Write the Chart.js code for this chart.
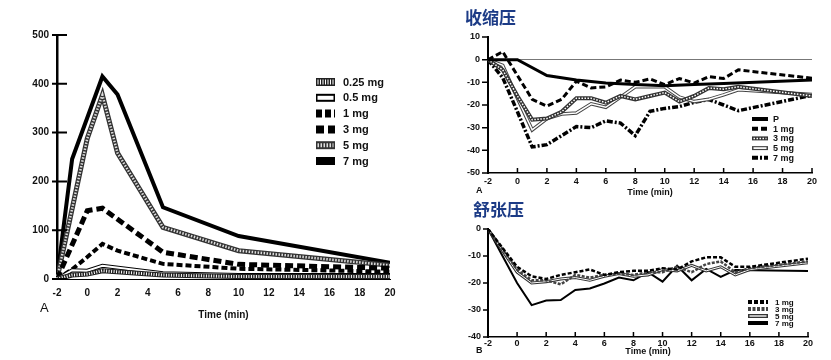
<!DOCTYPE html>
<html>
<head>
<meta charset="utf-8">
<script src="https://cdn.jsdelivr.net/npm/chart.js@4.4.1/dist/chart.umd.min.js"></script>
<style>
  body { margin: 0; background: #fff; width: 831px; height: 360px; position: relative; overflow: hidden; font-family: "Liberation Sans", Arial, sans-serif; }
  canvas { position: absolute; }
  .t { position: absolute; white-space: nowrap; line-height: 1; color: #111; font-weight: bold; }
  .cn { font-family: "Noto Sans CJK SC", sans-serif; font-size: 17px; color: #1c3b86; }
</style>
</head>
<body>
<canvas id="chartA" width="430" height="330" style="left:0px;top:0px"></canvas>
<canvas id="chartSys" width="391" height="200" style="left:440px;top:0px"></canvas>
<canvas id="chartDia" width="391" height="160" style="left:440px;top:200px"></canvas>

<div class="t" style="left:40px;top:301px;font-size:13px;font-weight:normal">A</div>
<div class="t cn" style="left:465px;top:8px">收缩压</div>
<div class="t" style="left:476px;top:186px;font-size:9px">A</div>
<div class="t cn" style="left:473px;top:200px">舒张压</div>
<div class="t" style="left:476px;top:346px;font-size:9px">B</div>

<script>
// ---- data: left chart (A) ----
const timeA = [-2, -1, 0, 1, 2, 5, 10, 15, 20];
const a025 = [0, 8, 10, 17, null, 8, 5, null, 5];
const a05  = [0, 18, 17, 27, null, 12, 8, null, 8];
const a1   = [0, 20, 45, 72, 58, 31, 21, null, 15];
const a3   = [0, null, 140, 145, null, 55, 30, null, 22];
const a5   = [0, null, 288, 377, 258, 106, 58, null, 28];
const a7   = [0, 246, null, 415, 378, 147, 88, null, 33];

// ---- data: systolic ----
const timeSys = [-2, -1, 0, 1, 2, 3, 4, 5, 6, 7, 8, 9, 10, 11, 12, 13, 14, 15, 20];
const sysP  = [0, null, 0, null, -7, null, -9, null, -10.3, null, -11, null, -11.5, null, -11, null, -10.5, null, -9];
const sys1  = [0, 3.5, null, -17.5, -20.5, -17.5, -9.5, -12.5, -12, -9, -10, -8.5, -11, -8.3, -10.3, -7.5, -8.3, -4.5, -8.2];
const sys3  = [0, -4.5, -16, -26.5, -26, -23, -17, -17, -19, -16, -17.5, -16, -14.5, -18.5, -16, -12.5, -13, -12, -16];
const sys5  = [0, -2.5, -17, -31, -26, -24, -23.5, -19.5, -21, -16.5, -12, -12, -12, -16.5, -18.5, -17.5, -15.5, -13.3, -15.4];
const sys7  = [0, -8, -23, -38.5, -37.5, -33.5, -29.5, -30, -27, -28, -33.5, -22.8, -21.5, -20.7, -18.8, -17.6, -20, -22.5, -15.7];

// ---- data: diastolic ----
const timeDia = [-2, -1, 0, 1, 2, 3, 4, 5, 6, 7, 8, 9, 10, 11, 12, 13, 14, 15, 16, 20];
const dia1 = [0, -7, -14, -17.5, -18.5, -17, -16, -15, -17, -16, -15.5, -15.5, -14.5, -15, -12, -10.5, -10.5, -14, -14, -11];
const dia3 = [0, -7.5, -15, -19, -19, -20.5, -17, -18, -17, -16.5, -17, -16, -16, -14, -16, -13, -12, -16, -14.5, -12];
const dia5 = [0, -8, -16, -20, -19.5, -18.5, -18, -19, -17.5, -16.5, -17.5, -17, -15, -15.5, -13.5, -15.5, -14, -17, -15, -12.5];
const dia7 = [0, -10, -20, -28.2, -26.5, -26.3, -22.6, -22, -20.2, -18, -19, -16, -19.5, -13.6, -19, -14.8, -17.7, -15.2, null, -15.6];

const xTicks = [-2, 20];   // x range of every panel
const pts = (t, v) => t.map((x, i) => ({ x: x, y: v[i] }));

// second stroke on top of a line (white core / hatching)
const innerLine = {
  id: 'innerLine',
  afterDatasetDraw(chart, args) {
    const ds = chart.data.datasets[args.index];
    if (!ds.innerColor) return;
    const p = args.meta.data.filter(e => !e.skip);
    const ctx = chart.ctx;
    ctx.save();
    ctx.beginPath();
    p.forEach((e, k) => k ? ctx.lineTo(e.x, e.y) : ctx.moveTo(e.x, e.y));
    ctx.strokeStyle = ds.innerColor;
    ctx.lineWidth = ds.innerWidth;
    ctx.setLineDash(ds.innerDash || []);
    ctx.lineJoin = 'miter';
    ctx.stroke();
    ctx.restore();
  }
};

// tick marks crossing the axes
const tickMarks = {
  id: 'tickMarks',
  afterDraw(chart, args, o) {
    const ctx = chart.ctx, a = chart.chartArea;
    const sx = chart.scales.x, sy = chart.scales.y;
    ctx.save();
    ctx.strokeStyle = '#000';
    ctx.lineWidth = o.width;
    ctx.beginPath();
    sy.ticks.forEach(t => {
      const py = sy.getPixelForValue(t.value);
      ctx.moveTo(a.left - o.yOut, py); ctx.lineTo(a.left + o.yIn, py);
    });
    if (o.xIn || o.xOut) {
      sx.ticks.forEach(t => {
        const px = sx.getPixelForValue(t.value);
        ctx.moveTo(px, a.bottom + o.xOut); ctx.lineTo(px, a.bottom - o.xIn);
      });
    }
    ctx.stroke();
    ctx.restore();
  }
};

// legend with line swatches inside the plot
const boxLegend = {
  id: 'boxLegend',
  afterDraw(chart, args, o) {
    const ctx = chart.ctx;
    chart.data.datasets.forEach((ds, i) => {
      const y = o.y + i * o.row;
      ctx.save();
      ctx.lineCap = 'butt';
      ctx.beginPath();
      ctx.moveTo(o.x, y); ctx.lineTo(o.x + o.w, y);
      ctx.strokeStyle = ds.borderColor;
      ctx.lineWidth = o.h;
      ctx.setLineDash(ds.borderDash || []);
      ctx.stroke();
      if (ds.innerColor) {
        ctx.beginPath();
        ctx.moveTo(o.x + 1.5, y); ctx.lineTo(o.x + o.w - 1.5, y);
        ctx.strokeStyle = ds.innerColor;
        ctx.lineWidth = Math.max(1, o.h * ds.innerWidth / ds.borderWidth);
        ctx.setLineDash(ds.innerDash || []);
        ctx.stroke();
      }
      ctx.setLineDash([]);
      ctx.fillStyle = '#111';
      ctx.font = o.font;
      ctx.textBaseline = 'middle';
      ctx.fillText(ds.label, o.x + o.w + o.gap, y + 0.5);
      ctx.restore();
    });
  }
};

function lineDs(label, t, v, style) {
  return Object.assign({
    label: label,
    data: pts(t, v),
    borderColor: '#000',
    borderWidth: 3,
    pointRadius: 0,
    tension: 0,
    spanGaps: true,
    fill: false,
    borderJoinStyle: 'miter'
  }, style);
}

function makeChart(id, datasets, p) {
  const cv = document.getElementById(id);
  const W = cv.width, H = cv.height;
  return new Chart(cv, {
    type: 'line',
    data: { datasets: datasets },
    plugins: [innerLine, tickMarks, boxLegend],
    options: {
      responsive: false,
      animation: false,
      layout: { padding: { left: 0, right: W - p.area.r, top: p.area.t, bottom: 0 } },
      scales: {
        x: {
          type: 'linear', min: xTicks[0], max: xTicks[1],
          afterFit: s => { s.height = H - p.area.b; },
          grid: { display: true, drawOnChartArea: false, drawTicks: false },
          border: { display: true, color: '#000', width: p.xBorder },
          ticks: { stepSize: 2, padding: p.xPad, color: '#111', font: { size: p.tickSize, weight: 'bold', family: 'Liberation Sans' } },
          title: { display: true, text: 'Time (min)', color: '#111', padding: { top: 0, bottom: p.titlePad }, font: { size: p.titleSize, weight: 'bold', family: 'Liberation Sans' } }
        },
        y: {
          min: p.yMin, max: p.yMax,
          afterFit: s => { s.width = p.area.l; },
          grid: {
            drawTicks: false,
            color: c => (p.zeroLine && c.tick && c.tick.value === 0) ? '#777' : 'rgba(0,0,0,0)',
            lineWidth: 1
          },
          border: { display: true, color: '#000', width: p.yBorder },
          ticks: { stepSize: p.yStep, padding: p.yPad, color: '#111', font: { size: p.tickSize, weight: 'bold', family: 'Liberation Sans' } }
        }
      },
      plugins: {
        legend: { display: false },
        tooltip: { enabled: false },
        tickMarks: p.marks,
        boxLegend: p.legend
      }
    }
  });
}

// ---- left chart ----
makeChart('chartA', [
  lineDs('0.25 mg', timeA, a025, { borderWidth: 5, borderColor: '#222', innerColor: '#fff', innerWidth: 3, innerDash: [1, 1.5] }),
  lineDs('0.5 mg', timeA, a05, { borderWidth: 4, innerColor: '#fff', innerWidth: 2 }),
  lineDs('1 mg', timeA, a1, { borderWidth: 4, borderDash: [6, 3] }),
  lineDs('3 mg', timeA, a3, { borderWidth: 5, borderDash: [8, 4] }),
  lineDs('5 mg', timeA, a5, { borderWidth: 5, borderColor: '#333', innerColor: '#ddd', innerWidth: 2.5, innerDash: [1.5, 1.5] }),
  lineDs('7 mg', timeA, a7, { borderWidth: 4 })
], {
  area: { l: 57, r: 390, t: 35, b: 279 },
  yMin: 0, yMax: 500, yStep: 100,
  tickSize: 10, titleSize: 10, xPad: 8, yPad: 8, titlePad: 9,
  xBorder: 1, yBorder: 2.5, zeroLine: false,
  marks: { width: 2, yIn: 10, yOut: 5, xIn: 0, xOut: 0 },
  legend: { x: 316, y: 82, row: 15.8, w: 19, h: 8, gap: 8, font: 'bold 11px "Liberation Sans"' }
});

// ---- systolic ----
makeChart('chartSys', [
  lineDs('P', timeSys, sysP, { borderWidth: 3 }),
  lineDs('1 mg', timeSys, sys1, { borderWidth: 3, borderDash: [6, 3] }),
  lineDs('3 mg', timeSys, sys3, { borderWidth: 4, borderColor: '#333', innerColor: '#fff', innerWidth: 1.5, innerDash: [1.5, 1.5] }),
  lineDs('5 mg', timeSys, sys5, { borderWidth: 3.5, borderColor: '#444', innerColor: '#fff', innerWidth: 1.5 }),
  lineDs('7 mg', timeSys, sys7, { borderWidth: 3.5, borderDash: [6, 2, 2, 2] })
], {
  area: { l: 48, r: 812 - 440, t: 37, b: 173 },
  yMin: -50, yMax: 10, yStep: 10,
  tickSize: 9, titleSize: 9, xPad: 3, yPad: 8, titlePad: 2,
  xBorder: 1.5, yBorder: 2, zeroLine: true,
  marks: { width: 1.5, yIn: 0, yOut: 6, xIn: 5, xOut: 0 },
  legend: { x: 312, y: 119, row: 9.7, w: 16, h: 4, gap: 5, font: 'bold 9px "Liberation Sans"' }
});

// ---- diastolic ----
makeChart('chartDia', [
  lineDs('1 mg', timeDia, dia1, { borderWidth: 2.5, borderDash: [4, 2] }),
  lineDs('3 mg', timeDia, dia3, { borderWidth: 2.5, borderColor: '#444', borderDash: [3, 1.5] }),
  lineDs('5 mg', timeDia, dia5, { borderWidth: 3, borderColor: '#333', innerColor: '#fff', innerWidth: 1 }),
  lineDs('7 mg', timeDia, dia7, { borderWidth: 2 })
], {
  area: { l: 48, r: 808 - 440, t: 29, b: 137 },
  yMin: -40, yMax: 0, yStep: 10,
  tickSize: 9, titleSize: 9, xPad: 1, yPad: 7, titlePad: 3,
  xBorder: 1.5, yBorder: 2, zeroLine: false,
  marks: { width: 1.5, yIn: 0, yOut: 5, xIn: 5, xOut: 0 },
  legend: { x: 308, y: 102, row: 7, w: 20, h: 4, gap: 7, font: 'bold 8px "Liberation Sans"' }
});
</script>
</body>
</html>
